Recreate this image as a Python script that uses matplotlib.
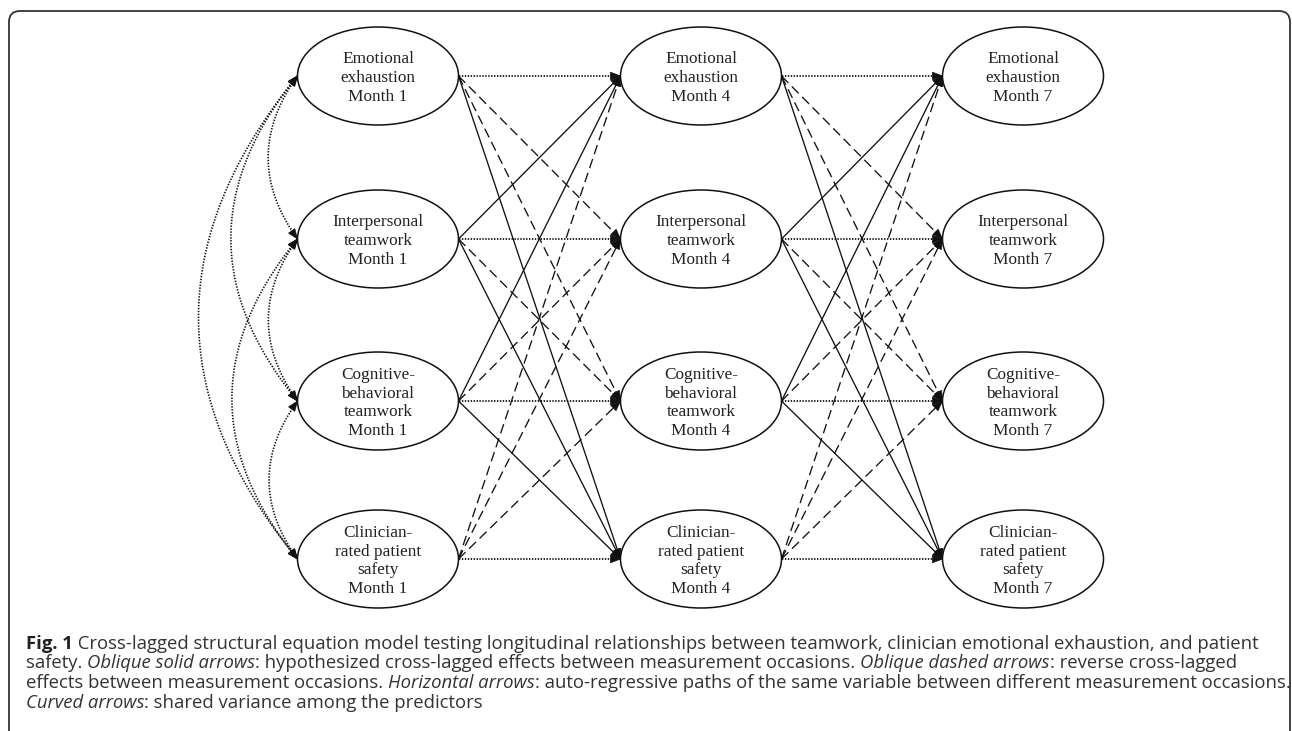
import numpy as np
import matplotlib
matplotlib.use("Agg")
import matplotlib.pyplot as plt
from matplotlib.patches import Ellipse, Polygon, FancyBboxPatch
from matplotlib import font_manager

plt.rcParams["lines.scale_dashes"] = False

# latent variables (rows) and measurement occasions (columns)
variables = ["Emotional\nexhaustion",
             "Interpersonal\nteamwork",
             "Cognitive-\nbehavioral\nteamwork",
             "Clinician-\nrated patient\nsafety"]
months = [1, 4, 7]

# path from variable i (one occasion) to variable j (next occasion)
# auto = auto-regressive, hyp = hypothesized cross-lag, rev = reverse cross-lag
paths = [["auto", "rev", "rev", "hyp"],
         ["hyp", "auto", "rev", "hyp"],
         ["hyp", "rev", "auto", "hyp"],
         ["rev", "rev", "rev", "auto"]]

# shared variance among predictors at month 1
covariances = [(0, 1), (0, 2), (0, 3), (1, 2), (1, 3), (2, 3)]

caption = [
    [("Fig. 1", "bold"), (" Cross-lagged structural equation model testing longitudinal relationships between teamwork, clinician emotional exhaustion, and patient", "normal")],
    [("safety. ", "normal"), ("Oblique solid arrows", "italic"), (": hypothesized cross-lagged effects between measurement occasions. ", "normal"),
     ("Oblique dashed arrows", "italic"), (": reverse cross-lagged", "normal")],
    [("effects between measurement occasions. ", "normal"), ("Horizontal arrows", "italic"),
     (": auto-regressive paths of the same variable between different measurement occasions.", "normal")],
    [("Curved arrows", "italic"), (": shared variance among the predictors", "normal")],
]

# layout (pixels)
W, H = 1292, 731
col_x = [378, 701, 1023]
row_y = [76, 239, 401, 559]
ew, eh = 161, 98

styles = {
    "hyp": dict(linestyle="-", lw=0.95),
    "rev": dict(dashes=(7.0, 3.6), lw=0.95),
    "auto": dict(dashes=(1.0, 1.1), lw=1.3),
}

fig = plt.figure(figsize=(W / 100, H / 100), dpi=100)
ax = fig.add_axes([0, 0, 1, 1])
ax.set_xlim(0, W)
ax.set_ylim(H, 0)
ax.axis("off")


def head(tip, frm, size=10, half=3.8):
    tip = np.array(tip, float)
    u = tip - np.array(frm, float)
    u = u / np.hypot(*u)
    n = np.array([-u[1], u[0]])
    base = tip - size * u
    ax.add_patch(Polygon([tip, base + half * n, base - half * n], closed=True,
                         facecolor="#111", edgecolor="#111", lw=0.5, zorder=5))


# border
ax.add_patch(FancyBboxPatch((9, 11), 1281, 760, boxstyle="round,pad=0,rounding_size=11",
                            facecolor="none", edgecolor="#333", lw=1.3, zorder=1))

# directed paths between occasions
for c in range(len(months) - 1):
    for i in range(len(variables)):
        for j in range(len(variables)):
            kind = paths[i][j]
            x0, y0 = col_x[c] + ew / 2, row_y[i]
            x1, y1 = col_x[c + 1] - ew / 2, row_y[j]
            ax.plot([x0, x1], [y0, y1], color="#111", zorder=2, **styles[kind])
            head((x1, y1), (x0, y0))

# curved covariance arrows
for i, j in covariances:
    xa = col_x[0] - ew / 2
    ya, yb = row_y[i], row_y[j]
    span = yb - ya
    sag = 0.18 * span if j - i == 1 else 0.205 * span
    ctrl = np.array([xa - 2 * sag, (ya + yb) / 2])
    t = np.linspace(0, 1, 200)[:, None]
    p0, p1 = np.array([xa, ya]), np.array([xa, yb])
    pts = (1 - t) ** 2 * p0 + 2 * t * (1 - t) * ctrl + t ** 2 * p1
    ax.plot(pts[:, 0], pts[:, 1], color="#111", dashes=(1.0, 1.1), lw=1.2, zorder=2)
    head(p0, p0 + (ctrl - p0) * 0.05)
    head(p1, p1 + (ctrl - p1) * 0.05)

# ellipses with labels
for c, m in enumerate(months):
    for r, v in enumerate(variables):
        ax.add_patch(Ellipse((col_x[c], row_y[r]), ew, eh, facecolor="white",
                             edgecolor="#111", lw=1.1, zorder=3))
        ax.text(col_x[c], row_y[r] + 2, f"{v}\nMonth {m}", ha="center", va="center",
                family="Liberation Serif", fontsize=12.4, linespacing=1.22,
                color="#222", zorder=4)

# caption
names = {f.name for f in font_manager.fontManager.ttflist}
cap_font = next((n for n in ["Open Sans", "Roboto Condensed", "Liberation Sans Narrow"]
                 if n in names), "DejaVu Sans")
renderer = fig.canvas.get_renderer()


def draw_line(x, y, segs, size):
    for txt, st in segs:
        t = ax.text(x, y, txt, fontsize=size, family=cap_font, va="baseline", ha="left",
                    fontweight="bold" if st == "bold" else "normal",
                    fontstyle="italic" if st == "italic" else "normal",
                    color="#222" if st == "bold" else "#333", zorder=4)
        bb = t.get_window_extent(renderer)
        x = ax.transData.inverted().transform((bb.x1, bb.y0))[0]
    return x


# fit font size so the first line spans the caption width
probe = draw_line(26, -100, caption[0], 10)
for t in list(ax.texts)[-len(caption[0]):]:
    t.remove()
cap_size = min(10 * (1258 - 26) / (probe - 26), 13.6)

baselines = [649, 668.5, 688, 707.5]
for line, yb in zip(caption, baselines):
    draw_line(26, yb, line, cap_size)

fig.savefig("out.png", dpi=100, facecolor="white")
